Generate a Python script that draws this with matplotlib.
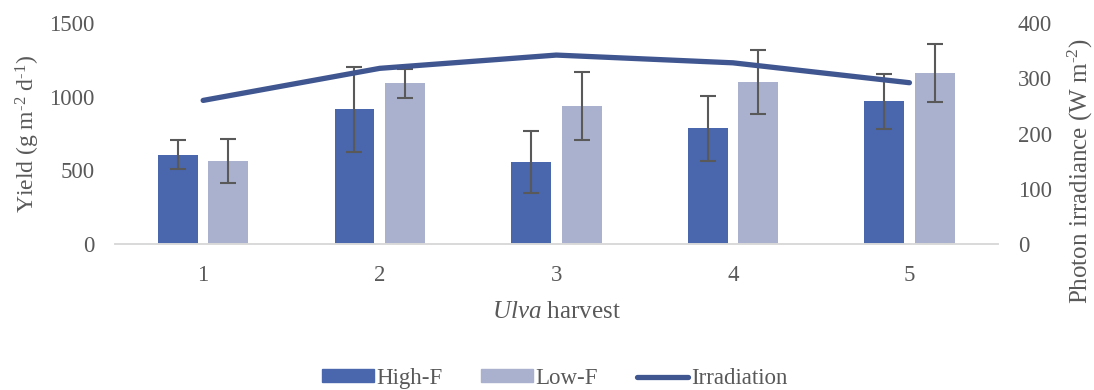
import matplotlib
matplotlib.use("Agg")
import matplotlib.pyplot as plt
import numpy as np
from matplotlib.lines import Line2D
from matplotlib.patches import Patch

harvests = ["1", "2", "3", "4", "5"]
high_f = [608, 914, 558, 785, 968]
high_f_err = [100, 290, 208, 222, 184]
low_f = [563, 1090, 938, 1099, 1162]
low_f_err = [147, 100, 232, 217, 197]
irradiation = [260, 318, 342, 328, 292]

plt.rcParams['font.family'] = ['Liberation Serif', 'DejaVu Serif']
plt.rcParams['mathtext.fontset'] = 'custom'
plt.rcParams['mathtext.rm'] = 'Liberation Serif'
plt.rcParams['mathtext.it'] = 'Liberation Serif:italic'
plt.rcParams['mathtext.bf'] = 'Liberation Serif:bold'
TXT = '#595959'
HI = '#4A67AD'
LO = '#A9B1CF'
LN = '#3F5691'

fig = plt.figure(figsize=(10.94, 3.9), dpi=100)
ax = fig.add_axes([0.105, 0.374, 0.807, 0.567])
ax2 = ax.twinx()

x = np.arange(1, len(harvests) + 1)
w = 0.226
off = 0.143
ax.bar(x - off, high_f, w, color=HI, zorder=2)
ax.bar(x + off, low_f, w, color=LO, zorder=2)
ekw = dict(fmt='none', ecolor='#595959', elinewidth=1.5, capsize=5.8, capthick=1.5, zorder=3)
ax.errorbar(x - off, high_f, yerr=high_f_err, **ekw)
ax.errorbar(x + off, low_f, yerr=low_f_err, **ekw)

ax2.plot(x, irradiation, color=LN, lw=3.8, solid_capstyle='round', solid_joinstyle='round', zorder=4)

ax.set_xlim(0.5, 5.5)
ax.set_ylim(0, 1500)
ax2.set_ylim(0, 400)
ax.set_yticks([0, 500, 1000, 1500])
ax2.set_yticks([0, 100, 200, 300, 400])
ax.set_xticks(x)
ax.set_xticklabels(harvests)

for a in (ax, ax2):
    for s in ('top', 'left', 'right'):
        a.spines[s].set_visible(False)
    a.spines['bottom'].set_color('#D9D9D9')
    a.spines['bottom'].set_linewidth(1.2)
    a.tick_params(length=0, labelsize=16.5, colors=TXT)
ax.tick_params(axis='y', pad=14.5)
ax2.tick_params(axis='y', pad=14.5)
ax.tick_params(axis='x', pad=15)

hy = '\u2010'
ax.set_ylabel('Yield (g m$^{' + hy + '2}$ d$^{' + hy + '1}$)', fontsize=17, color=TXT)
ax.yaxis.set_label_coords(-0.082, 0.5)
ax2.set_ylabel('Photon irradiance (W m$^{' + hy + '2}$)', fontsize=18, color=TXT)
ax2.yaxis.set_label_coords(1.077, 0.33)
ax.set_xlabel('$\\mathit{Ulva}$ harvest', fontsize=18, color=TXT)
ax.xaxis.set_label_coords(0.5, -0.258)

handles = [Patch(color=HI, label='High-F'),
           Patch(color=LO, label='Low-F'),
           Line2D([0], [0], color=LN, lw=3.8, solid_capstyle='round', label='Irradiation')]
leg = fig.legend(handles=handles, loc='center', bbox_to_anchor=(0.507, 0.03), ncol=3, frameon=False,
                 fontsize=16.5, handlelength=2.25, handleheight=0.47, handletextpad=0.12,
                 columnspacing=1.68, borderpad=0, borderaxespad=0)
for t in leg.get_texts():
    t.set_color(TXT)

fig.savefig('out.png', dpi=100)
